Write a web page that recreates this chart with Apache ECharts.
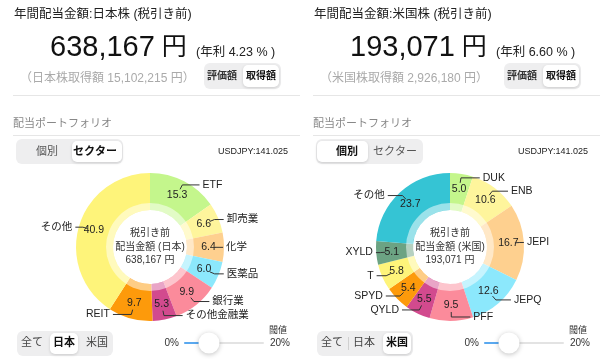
<!DOCTYPE html>
<html>
<head>
<meta charset="utf-8">
<script src="https://cdn.jsdelivr.net/npm/echarts@6/dist/echarts.min.js"></script>
<style>html,body{margin:0;padding:0;background:#fff;}#c{width:600px;height:359px;}</style>
</head>
<body>
<div id="c"></div>
<script>
// ---- data ----
const jpNames = ['ETF', '卸売業', '化学', '医薬品', '銀行業', 'その他金融業', 'REIT', 'その他'];
const jpValues = [15.3, 6.6, 6.4, 6.0, 9.9, 5.3, 9.7, 40.9];
const usNames = ['DUK', 'ENB', 'JEPI', 'JEPQ', 'PFF', 'QYLD', 'SPYD', 'T', 'XYLD', 'その他'];
const usValues = [5.0, 10.6, 16.7, 12.6, 9.5, 5.5, 5.4, 5.8, 5.1, 23.7];
const jpTotal = '638,167';
const usTotal = '193,071';
const jpYield = '4.23';
const usYield = '6.60';
const jpCost = '15,102,215';
const usCost = '2,926,180';
const fxRate = 'USDJPY:141.025';

// ---- styles ----
const jpColors = ['#c4f68c', '#fef59c', '#fed08f', '#8ce8fc', '#fb8b9b', '#d24a8e', '#fd9a0b', '#fef47a'];
const usColors = ['#c4f68c', '#fef59c', '#fed08f', '#8ce8fc', '#fb8b9b', '#d24a8e', '#fd9a0b', '#fef47a', '#6ca383', '#35c4d4'];
const FONT = '"Liberation Sans", "Noto Sans CJK JP", sans-serif';
const CY = 247;

const chart = echarts.init(document.getElementById('c'), null, {renderer: 'canvas', width: 600, height: 359});

function makeLayout(cx, cy) {
  return function (params) {
    const pts = params.labelLinePoints;
    if (!pts) return {};
    const q = pts[0];
    const dx = q[0] - cx, dy = q[1] - cy;
    const r = Math.sqrt(dx * dx + dy * dy) || 1;
    const ux = dx / r, uy = dy / r;
    const p0 = [cx + ux * 65, cy + uy * 65];
    const p1 = [p0[0] + ux * 5, p0[1] + uy * 5];
    const side = ux >= 0 ? 1 : -1;
    const l2 = 3 + 16 * Math.abs(uy);
    const p2 = [p1[0] + side * l2, p1[1]];
    return {
      x: p2[0] + side * 3, y: p2[1],
      align: side > 0 ? 'left' : 'right', verticalAlign: 'middle',
      labelLinePoints: [p0, p1, p2]
    };
  };
}

function pieSeries(cx, names, values, colors) {
  const data = names.map((n, i) => ({name: n, value: values[i], itemStyle: {color: colors[i]}}));
  return [{
    type: 'pie', center: [cx, CY], radius: [37, 74], startAngle: 90, clockwise: true,
    silent: true, avoidLabelOverlap: false, animation: false,
    label: {show: true, position: 'inside', formatter: p => p.value.toFixed(1),
      fontSize: 10.5, color: '#222', fontFamily: FONT},
    labelLine: {show: false},
    data: data
  }, {
    type: 'pie', center: [cx, CY], radius: [0, 65], startAngle: 90, clockwise: true,
    silent: true, avoidLabelOverlap: false, animation: false, z: 5,
    itemStyle: {color: 'rgba(0,0,0,0)'},
    label: {show: true, position: 'outside', formatter: '{b}', fontSize: 10.5, color: '#222', fontFamily: FONT},
    labelLine: {show: true, length: 5, length2: 10, smooth: false, lineStyle: {color: '#333', width: 1}},
    labelLayout: makeLayout(cx, CY),
    data: names.map((n, i) => ({name: n, value: values[i]}))
  }];
}

function txt(x, y, text, size, color, opts) {
  return Object.assign({
    type: 'text', x: x, y: y, silent: true, z: 10,
    style: Object.assign({text: text, fontSize: size, fill: color, fontFamily: FONT,
      textAlign: 'left', textVerticalAlign: 'middle'}, (opts && opts.style) || {})
  }, opts && opts.el || {});
}
function rect(x, y, w, h, r, fill, extra) {
  return Object.assign({type: 'rect', silent: true, z: 5, shape: {x: x, y: y, width: w, height: h, r: r},
    style: Object.assign({fill: fill}, extra || {})});
}
function line(x1, y1, x2, y2, color) {
  return {type: 'line', silent: true, z: 5, shape: {x1: x1, y1: y1, x2: x2, y2: y2}, style: {stroke: color, lineWidth: 1}};
}
const SH = {shadowBlur: 3, shadowColor: 'rgba(0,0,0,0.15)', shadowOffsetY: 1};

function panel(ox, market, total, yieldV, cost, sel, mkSel) {
  const g = [];
  g.push(txt(ox + 14, 15, '年間配当金額:' + market + ' (税引き前)', 12.5, '#222'));
  g.push({type: 'text', x: ox + 50, y: 48, z: 10, silent: true,
    style: {text: '{n|' + total + '}{u|円}', fontFamily: FONT, textVerticalAlign: 'middle',
      rich: {n: {fontSize: 29, fill: '#111', fontFamily: FONT},
             u: {fontSize: 25, fill: '#111', fontFamily: FONT, padding: [0, 0, 0, 7]}}}});
  g.push(txt(ox + 196, 53, '(年利 ' + yieldV + ' % )', 12.5, '#222'));
  g.push(txt(ox + 20, 79, '（' + market + '取得額 ' + cost + ' 円）', 12, '#aaa'));
  // valuation toggle
  g.push(rect(ox + 204, 63, 77, 26, 6, '#eeeeef'));
  g.push(rect(ox + 243, 65, 36, 22, 5, '#fff', SH));
  g.push(txt(ox + 222, 76, '評価額', 10, '#333', {style: {textAlign: 'center', fontWeight: 'bold'}}));
  g.push(txt(ox + 261, 76, '取得額', 10, '#111', {style: {textAlign: 'center', fontWeight: 'bold'}}));
  g.push(line(ox + 13, 95.5, ox + 300, 95.5, '#e6e6e6'));
  g.push(txt(ox + 13, 124, '配当ポートフォリオ', 11, '#888'));
  g.push(line(ox + 13, 135.5, ox + 300, 135.5, '#e6e6e6'));
  // 個別 / セクター toggle
  g.push(rect(ox + 16, 139, 107, 25, 6, '#eeeeef'));
  if (sel === 1) g.push(rect(ox + 72, 141, 50, 21, 5, '#fff', SH));
  else g.push(rect(ox + 17, 141, 51, 21, 5, '#fff', SH));
  g.push(txt(ox + 47, 152, '個別', 11, sel === 0 ? '#111' : '#555', {style: {textAlign: 'center', fontWeight: sel === 0 ? 'bold' : 'normal'}}));
  g.push(txt(ox + 95, 152, 'セクター', 11, sel === 1 ? '#111' : '#555', {style: {textAlign: 'center', fontWeight: sel === 1 ? 'bold' : 'normal'}}));
  g.push(txt(ox + 288, 152, fxRate, 9, '#222', {style: {textAlign: 'right'}}));
  // donut halo and center text
  g.push({type: 'ring', silent: true, z: 10, shape: {cx: ox + 150, cy: CY, r: 44, r0: 37}, style: {fill: 'rgba(255,255,255,0.5)'}});
  g.push(txt(ox + 150, CY, '税引き前\n配当金額 (' + (mkSel === 1 ? '日本' : '米国') + ')\n' + total + ' 円', 10, '#333',
    {style: {textAlign: 'center', lineHeight: 13.5}}));
  // market toggle
  g.push(rect(ox + 17, 331, 96, 25, 6, '#eeeeef'));
  if (mkSel === 1) g.push(rect(ox + 50, 333, 28, 21, 5, '#fff', SH));
  else {
    g.push(rect(ox + 83, 333, 28, 21, 5, '#fff', SH));
    g.push(line(ox + 48.5, 337, ox + 48.5, 350, '#d0d0d0'));
  }
  const mk = ['全て', '日本', '米国'];
  const mx = [32, 64, 97];
  mk.forEach((m, i) => g.push(txt(ox + mx[i], 343, m, 11, i === mkSel ? '#111' : '#444',
    {style: {textAlign: 'center', fontWeight: i === mkSel ? 'bold' : 'normal'}})));
  // threshold slider
  g.push(txt(ox + 287, 331, '閾値', 9, '#333', {style: {textAlign: 'right'}}));
  g.push(txt(ox + 179, 343, '0%', 10, '#333', {style: {textAlign: 'right'}}));
  g.push(txt(ox + 270, 343, '20%', 10, '#333'));
  g.push(rect(ox + 184, 342, 80, 2, 1, '#e3e3e3'));
  g.push(rect(ox + 184, 342, 18, 2, 1, '#5aa9f0'));
  g.push({type: 'circle', silent: true, z: 12, shape: {cx: ox + 209, cy: 343, r: 10.5},
    style: {fill: '#fff', shadowBlur: 5, shadowColor: 'rgba(0,0,0,0.25)', shadowOffsetY: 1}});
  return g;
}

const graphics = [].concat(
  panel(0, '日本株', jpTotal, jpYield, jpCost, 1, 1),
  panel(300, '米国株', usTotal, usYield, usCost, 0, 2)
);

chart.setOption({
  backgroundColor: '#fff',
  animation: false,
  graphic: {elements: graphics},
  series: [].concat(
    pieSeries(150, jpNames, jpValues, jpColors),
    pieSeries(450, usNames, usValues, usColors)
  )
});
</script>
</body>
</html>
